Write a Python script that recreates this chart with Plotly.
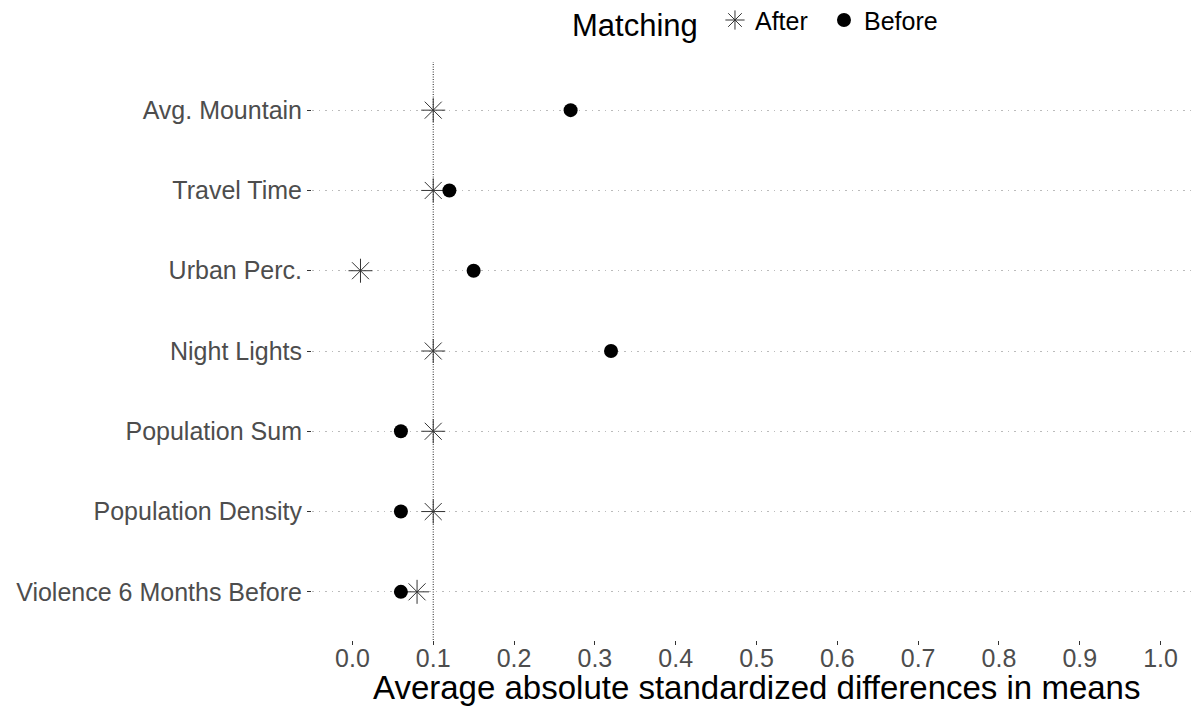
import plotly.graph_objects as go

variables = ["Violence 6 Months Before", "Population Density", "Population Sum",
             "Night Lights", "Urban Perc.", "Travel Time", "Avg. Mountain"]
after_vals = [0.08, 0.10, 0.10, 0.10, 0.01, 0.10, 0.10]
before_vals = [0.06, 0.06, 0.06, 0.32, 0.15, 0.12, 0.27]
x_ticks = [0.0, 0.1, 0.2, 0.3, 0.4, 0.5, 0.6, 0.7, 0.8, 0.9, 1.0]
threshold = 0.1

fig = go.Figure()
fig.add_trace(go.Scatter(
    x=after_vals, y=variables, mode="markers", name="After", legend="legend",
    marker=dict(symbol="asterisk-open", size=20, color="#333333",
                line=dict(color="#333333", width=1)),
))
fig.add_trace(go.Scatter(
    x=before_vals, y=variables, mode="markers", name="Before", legend="legend2",
    marker=dict(symbol="circle", size=14, color="black"),
))

fig.add_shape(type="line", x0=threshold, x1=threshold, xref="x", y0=0, y1=1, yref="paper",
              line=dict(color="#222222", width=1, dash="1px,1.5px"), layer="below")

fig.add_annotation(text="Matching", xref="paper", yref="paper", x=0.4364, y=1.063,
                   xanchor="right", yanchor="middle", showarrow=False,
                   font=dict(size=31, color="black"))
fig.add_annotation(text="Average absolute standardized differences in means",
                   xref="paper", yref="paper", x=0.5, y=-0.083,
                   xanchor="center", yanchor="middle", showarrow=False,
                   font=dict(size=33, color="black"))

legend_style = dict(orientation="h", xanchor="left", y=1.112, yanchor="top",
                    font=dict(size=25, color="black"), bgcolor="rgba(0,0,0,0)")

# page has an 8px body margin, so the figure is drawn 8px smaller and offset
fig.update_layout(
    width=1193, height=701,
    margin=dict(l=304, r=0, t=54, b=69, autoexpand=False),
    plot_bgcolor="white", paper_bgcolor="white",
    font=dict(family="Liberation Sans, Arial, sans-serif", color="black"),
    showlegend=True,
    legend=dict(x=0.4533, **legend_style),
    legend2=dict(x=0.5759, **legend_style),
    xaxis=dict(
        range=[-0.05, 1.05], tickvals=x_ticks,
        ticktext=[f"{v:.1f}" for v in x_ticks],
        showgrid=False, zeroline=False, showline=False,
        ticks="outside", ticklen=4, tickcolor="#333333",
        tickfont=dict(size=25, color="#4D4D4D"),
        ticklabelstandoff=-8,
    ),
    yaxis=dict(
        type="category", categoryorder="array", categoryarray=variables,
        range=[-0.6, 6.6],
        showgrid=True, gridcolor="#BBBBBB", griddash="1.5px,5px", gridwidth=1.2,
        zeroline=False, showline=False,
        ticks="outside", ticklen=4, tickcolor="#333333",
        tickfont=dict(size=25, color="#4D4D4D"),
    ),
)

fig.write_html("out.html")
